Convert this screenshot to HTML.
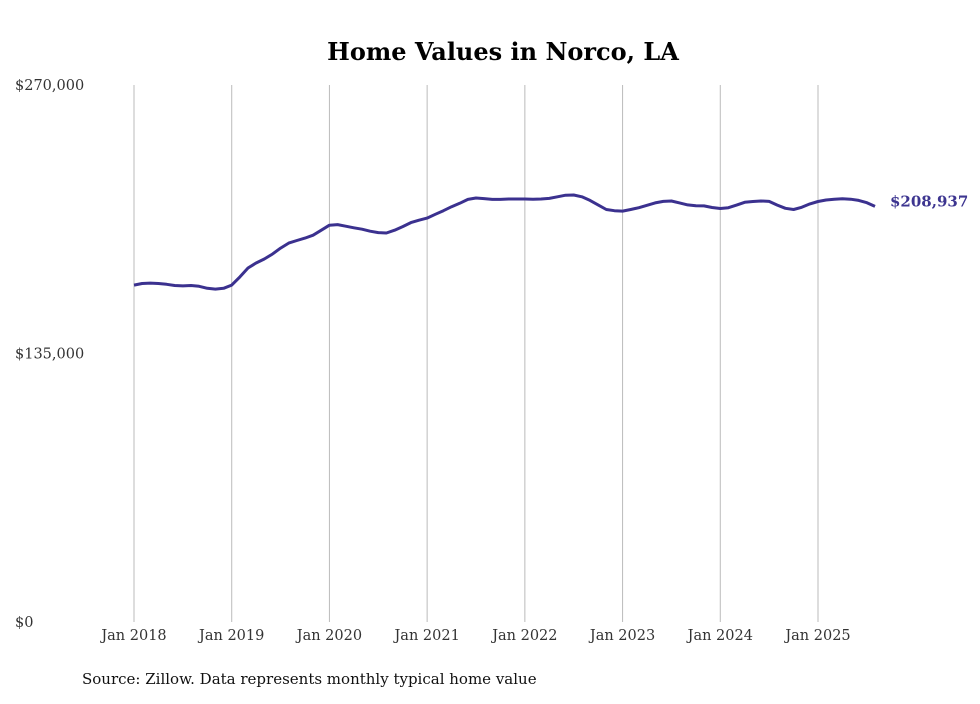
<!DOCTYPE html>
<html><head><meta charset="utf-8"><style>
body{margin:0;background:#fff;}
svg text{font-family:"DejaVu Serif","Liberation Serif",serif;}
</style></head><body>
<svg width="980" height="699" viewBox="0 0 980 699">
<text x="503" y="60" text-anchor="middle" font-size="24" font-weight="bold" fill="#000">Home Values in Norco, LA</text>
<g id="grid"></g>
<g id="yaxis"></g>
<g id="xaxis"></g>
<path id="line" fill="none" stroke="#3b318f" stroke-width="3" stroke-linejoin="round"/>
<text id="endlabel" font-size="15" font-weight="bold" fill="#3d3590"></text>
<text x="82" y="684" font-size="15" fill="#111">Source: Zillow. Data represents monthly typical home value</text>
</svg>
<script>
const yTicks=[0,135000,270000];
const yTickLabels=["$0","$135,000","$270,000"];
const xYears=[2018,2019,2020,2021,2022,2023,2024,2025];
const xTickLabels=["Jan 2018","Jan 2019","Jan 2020","Jan 2021","Jan 2022","Jan 2023","Jan 2024","Jan 2025"];
const startYear=2018;
const values=[
169.4,170.2,170.4,170.2,169.8,169.2,169.0,169.2,168.8,167.8,167.4,167.8,
169.4,173.5,178,180.5,182.5,185,188,190.5,191.8,193,194.5,197,
199.5,199.8,199,198.2,197.5,196.5,195.8,195.6,197,198.8,200.8,202,
203.1,205,206.8,208.8,210.5,212.5,213.2,212.9,212.5,212.5,212.7,212.7,
212.7,212.6,212.7,213,213.8,214.6,214.7,213.8,212,209.7,207.4,206.8,
206.6,207.4,208.3,209.5,210.7,211.5,211.7,210.7,209.7,209.3,209.2,208.4,
207.9,208.3,209.6,211,211.4,211.7,211.5,209.6,208,207.4,208.5,210.2,
211.4,212.2,212.6,212.8,212.6,212,210.8,208.937];
const lastLabel="$208,937";

const NS="http://www.w3.org/2000/svg";
const y=v=>622-v/270000*537;
const x=m=>134+m*(684/84);
const grid=document.getElementById('grid'),ya=document.getElementById('yaxis'),xa=document.getElementById('xaxis');
yTicks.forEach((t,i)=>{
  const tx=document.createElementNS(NS,'text');
  
  
  tx.setAttribute('x',15);tx.setAttribute('y',y(t)+5);tx.setAttribute('font-size','14.5');tx.setAttribute('fill','#333');
  tx.textContent=yTickLabels[i];ya.appendChild(tx);
});
xYears.forEach((yr,i)=>{
  const m=(yr-startYear)*12;
  const ln=document.createElementNS(NS,'line');
  
  
  ln.setAttribute('x1',x(m));ln.setAttribute('x2',x(m));ln.setAttribute('y1',85);ln.setAttribute('y2',622);
  ln.setAttribute('stroke','#bbb');ln.setAttribute('stroke-width','1');grid.appendChild(ln);
  const tx=document.createElementNS(NS,'text');
  
  
  tx.setAttribute('x',x(m));tx.setAttribute('y',640);tx.setAttribute('font-size','14.5');tx.setAttribute('fill','#333');tx.setAttribute('text-anchor','middle');
  tx.textContent=xTickLabels[i];xa.appendChild(tx);
});
let d='';
values.forEach((v,i)=>{d+=(i?'L':'M')+x(i).toFixed(1)+','+y(v*1000).toFixed(1);});
document.getElementById('line').setAttribute('d',d);
const el=document.getElementById('endlabel');
const li=values.length-1;
el.setAttribute('x',x(li)+15);el.setAttribute('y',y(values[li]*1000)+0);
el.textContent=lastLabel;
</script>
</body></html>
